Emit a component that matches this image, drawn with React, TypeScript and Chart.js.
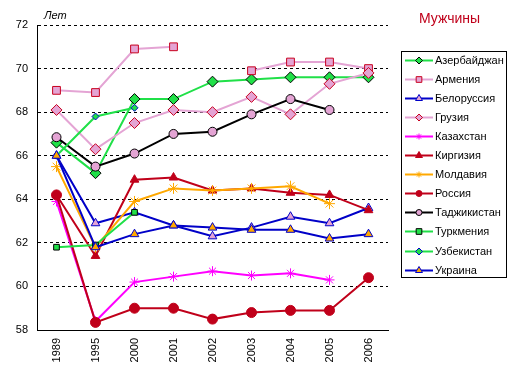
import React, { useEffect, useRef } from 'react';
import { Chart, registerables } from 'chart.js';
import { drawPoint } from 'chart.js/helpers';

Chart.register(...registerables);

const years = ['1989', '1995', '2000', '2001', '2002', '2003', '2004', '2005', '2006'];
const yTicks = [58, 60, 62, 64, 66, 68, 70, 72];

const azerbaijan = [66.6, 65.2, 68.6, 68.6, 69.4, 69.5, 69.6, 69.6, 69.6];
const armenia = [69.0, 68.9, 70.9, 71.0, null, 69.9, 70.3, 70.3, 70.0];
const belorussia = [66.0, 62.9, 63.4, 62.8, 62.3, 62.7, 63.2, 62.9, 63.6];
const georgia = [68.1, 66.3, 67.5, 68.1, 68.0, 68.7, 67.9, 69.3, 69.8];
const kazakhstan = [63.9, 58.4, 60.2, 60.45, 60.7, 60.5, 60.6, 60.3, null];
const kyrgyzstan = [64.2, 61.4, 64.9, 65.0, 64.4, 64.5, 64.3, 64.2, 63.5];
const moldova = [65.5, 61.8, 63.9, 64.5, 64.4, 64.5, 64.6, 63.8, null];
const russia = [64.2, 58.35, 59.0, 59.0, 58.5, 58.8, 58.9, 58.9, 60.4];
const tajikistan = [66.85, 65.5, 66.1, 67.0, 67.1, 67.9, 68.6, 68.1, null];
const turkmenistan = [61.8, 61.9, 63.4, null, null, null, null, null, null];
const uzbekistan = [66.0, 67.8, 68.2, null, null, null, null, null, null];
const ukraine = [66.0, 61.8, 62.4, 62.8, 62.7, 62.6, 62.6, 62.2, 62.4];

const GREEN = '#20e048';
const PINK = '#e4a4d4';
const RED = '#c8001e';
const DARKRED = '#c0001a';
const BLUE = '#0000c8';
const ORANGE = '#ffa800';
const MAGENTA = '#ff00ff';
const FONT = "'Liberation Sans', Arial, sans-serif";

type S = {
  label: string; data: (number | null)[]; line: string; style: string;
  fill: string; border: string; r: number; lr: number; bw: number;
};

const series: S[] = [
  { label: 'Азербайджан', data: azerbaijan, line: GREEN, style: 'rectRot', fill: GREEN, border: '#000000', r: 5.5, lr: 3.5, bw: 1 },
  { label: 'Армения', data: armenia, line: PINK, style: 'rect', fill: PINK, border: RED, r: 5.5, lr: 4, bw: 1 },
  { label: 'Белоруссия', data: belorussia, line: BLUE, style: 'triangle', fill: PINK, border: BLUE, r: 5, lr: 4, bw: 1 },
  { label: 'Грузия', data: georgia, line: PINK, style: 'rectRot', fill: PINK, border: RED, r: 5.5, lr: 3.5, bw: 1 },
  { label: 'Казахстан', data: kazakhstan, line: MAGENTA, style: 'star', fill: MAGENTA, border: MAGENTA, r: 5, lr: 3, bw: 1 },
  { label: 'Киргизия', data: kyrgyzstan, line: DARKRED, style: 'triangle', fill: DARKRED, border: DARKRED, r: 5, lr: 4, bw: 1 },
  { label: 'Молдавия', data: moldova, line: ORANGE, style: 'star', fill: ORANGE, border: ORANGE, r: 5.5, lr: 3, bw: 1 },
  { label: 'Россия', data: russia, line: DARKRED, style: 'circle', fill: DARKRED, border: DARKRED, r: 5, lr: 3, bw: 1 },
  { label: 'Таджикистан', data: tajikistan, line: '#000000', style: 'circle', fill: PINK, border: '#000000', r: 4.5, lr: 3, bw: 1 },
  { label: 'Туркмения', data: turkmenistan, line: GREEN, style: 'rect', fill: GREEN, border: '#000000', r: 4, lr: 4, bw: 1 },
  { label: 'Узбекистан', data: uzbekistan, line: GREEN, style: 'rectRot', fill: GREEN, border: BLUE, r: 3.5, lr: 3.5, bw: 1 },
  { label: 'Украина', data: ukraine, line: BLUE, style: 'triangle', fill: ORANGE, border: BLUE, r: 5, lr: 4, bw: 1 },
];

const overlay = {
  id: 'overlay',
  afterDraw(chart: any) {
    const ctx = chart.ctx as CanvasRenderingContext2D;
    ctx.save();
    // title
    ctx.fillStyle = DARKRED;
    ctx.font = `14px ${FONT}`;
    ctx.textBaseline = 'middle';
    ctx.textAlign = 'left';
    ctx.fillText('Мужчины', 419, 19);
    // axis unit
    ctx.fillStyle = '#000000';
    ctx.font = `italic 11px ${FONT}`;
    ctx.fillText('Лет', 44, 16);
    // legend box
    ctx.strokeStyle = '#000000';
    ctx.lineWidth = 1;
    ctx.strokeRect(401.5, 51.5, 105, 226);
    ctx.font = `11px ${FONT}`;
    series.forEach((s, i) => {
      const y = Math.round(60 + i * 19.05) + 0.5;
      ctx.strokeStyle = s.line;
      ctx.lineWidth = 2;
      ctx.setLineDash([]);
      ctx.beginPath();
      ctx.moveTo(405, y);
      ctx.lineTo(433, y);
      ctx.stroke();
      ctx.fillStyle = s.fill;
      ctx.strokeStyle = s.border;
      ctx.lineWidth = 1;
      drawPoint(ctx, { pointStyle: s.style as any, radius: s.lr, rotation: 0, borderWidth: 1 } as any, 419, y);
      ctx.fillStyle = '#000000';
      ctx.textBaseline = 'middle';
      ctx.fillText(s.label, 435, y);
    });
    ctx.restore();
  },
};

export default function App() {
  const ref = useRef<HTMLCanvasElement | null>(null);
  useEffect(() => {
    if (!ref.current) return;
    Chart.defaults.font.family = FONT;
    const n = series.length;
    const chart = new Chart(ref.current, {
      type: 'line',
      data: {
        labels: years,
        datasets: series.map((s, i) => ({
          label: s.label,
          data: s.data,
          borderColor: s.line,
          borderWidth: 2,
          backgroundColor: s.fill,
          pointStyle: s.style as any,
          pointRadius: s.r,
          pointBackgroundColor: s.fill,
          pointBorderColor: s.border,
          pointBorderWidth: s.bw,
          spanGaps: false,
          tension: 0,
          fill: false,
          order: n - i,
        })),
      },
      options: {
        responsive: false,
        animation: false,
        devicePixelRatio: 1,
        layout: { padding: { left: 0, right: 129, top: 25, bottom: 0 } },
        plugins: { legend: { display: false }, tooltip: { enabled: false }, title: { display: false } },
        scales: {
          x: {
            type: 'category',
            offset: true,
            grid: { display: false, drawTicks: false },
            border: { display: true, color: '#000000', width: 1 },
            ticks: {
              color: '#000000',
              font: { size: 11, family: FONT },
              minRotation: 90,
              maxRotation: 90,
              autoSkip: false,
              padding: 8,
            },
            afterFit: (axis: any) => { axis.height = 49; },
          },
          y: {
            min: 58,
            max: 72,
            afterBuildTicks: (axis: any) => { axis.ticks = yTicks.map((v) => ({ value: v })); },
            grid: { display: true, color: '#000000', lineWidth: 1, drawTicks: false },
            border: { display: true, color: '#000000', width: 1, dash: [3, 3] },
            ticks: { color: '#000000', font: { size: 11, family: FONT }, padding: 9 },
            afterFit: (axis: any) => { axis.width = 37; },
          },
        },
      },
      plugins: [overlay],
    });
    return () => chart.destroy();
  }, []);
  return (
    <div style={{ position: 'fixed', left: 0, top: 0, width: 517, height: 379, background: '#ffffff' }}>
      <canvas ref={ref} width={517} height={379} style={{ width: 517, height: 379, display: 'block' }} />
    </div>
  );
}
